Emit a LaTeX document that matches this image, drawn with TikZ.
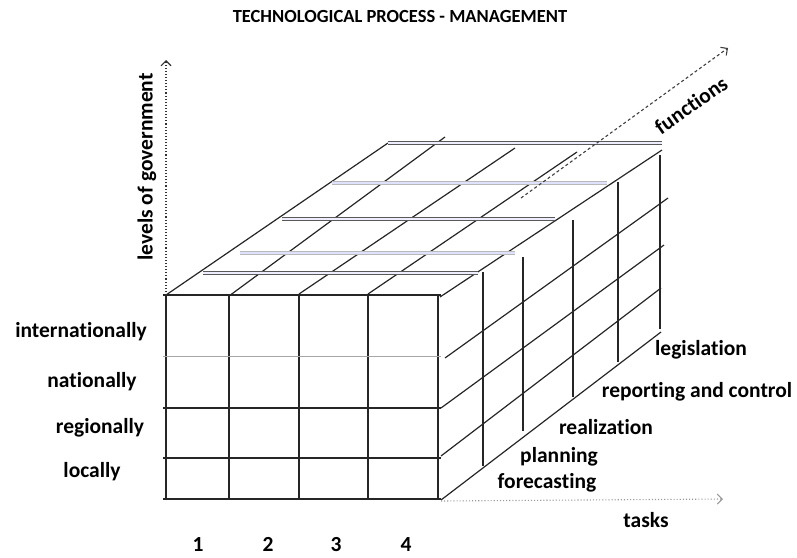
\documentclass[tikz,border=0pt]{standalone}
\usepackage{fontspec}
\setmainfont{Carlito}[Numbers=Lining, Ligatures=NoCommon]
\usetikzlibrary{arrows.meta}

\begin{document}
\begin{tikzpicture}[
  x=1pt, y=-1pt,
  grid/.style={line width=1.2pt, draw=black!85},
  bar/.style={line width=1pt, draw=gray!70!black, double=blue!7, double distance=1.8pt},
  lightbar/.style={bar, draw=gray!55, double=blue!12},
  lbl/.style={font=\fontsize{21.5}{23}\selectfont\bfseries, text=black, inner sep=0pt},
  num/.style={lbl, anchor=base},
  axis/.style={line width=1.1pt, -{Straight Barb[length=5pt]}}
  ]
  \useasboundingbox (0,0) rectangle (797,557);

  % front face
  \foreach \x in {166,229,299,368,438}
    \draw[grid] (\x,295) -- (\x,499);
  \foreach \y in {295,408,458,499}
    \draw[grid] (163,\y) -- (441,\y);
  \draw[line width=0.8pt, gray!70] (163,356) -- (441,356);

  % top face
  \draw[grid] (166,295) -- (388,143);
  \draw[grid] (229,296) -- (445,137);
  \draw[grid] (299,294) -- (515,148);
  \draw[grid] (368,294) -- (577,152);
  \draw[grid] (440,297) -- (662,150);
  \draw[bar] (388,143) -- (662,143);
  \draw[lightbar] (332,183) -- (607,183);
  \draw[bar] (282,219) -- (555,219);
  \draw[lightbar] (240,253) -- (515,253);
  \draw[bar] (203,273) -- (478,273);

  % right face
  \draw[grid] (445,358) -- (668,198);
  \draw[grid] (441,408) -- (664,245);
  \draw[grid] (441,456) -- (661,288);
  \draw[grid] (441,500) -- (661,332);
  \draw[grid] (483,272) -- (483,466);
  \draw[grid] (523,257) -- (523,431);
  \draw[grid] (573,220) -- (573,397);
  \draw[grid] (618,182) -- (618,362);
  \draw[grid] (660,155) -- (660,329);

  % axes
  \coordinate (origin) at (166,295);
  \coordinate (up) at (166,60);
  \coordinate (corner) at (441,501);
  \coordinate (right) at (723,499);
  \coordinate (fstart) at (521,198);
  \coordinate (fend) at (728,48);
  \draw[axis, black!80, dotted] (origin) -- (up);
  \draw[axis, gray!80, dotted] (corner) -- (right);
  \draw[axis, black!75, dash pattern=on 3pt off 2.5pt] (fstart) -- (fend);

  % labels
  \node[lbl, font=\fontsize{18.5}{20}\selectfont\bfseries] (title) at (400,16) {TECHNOLOGICAL PROCESS - MANAGEMENT};
  \node[lbl, rotate=90] (levels) at (147,167) {levels of government};
  \node[lbl, rotate=35] (functions) at (691,105) {functions};
  \node[lbl] (intl) at (81,332) {internationally};
  \node[lbl] (natl) at (92,382) {nationally};
  \node[lbl] (regl) at (100,428) {regionally};
  \node[lbl] (locl) at (92,472) {locally};
  \node[lbl] (legis) at (701,350) {legislation};
  \node[lbl] (report) at (697,392) {reporting and control};
  \node[lbl] (realiz) at (606,427) {realization};
  \node[lbl] (plan) at (559,457) {planning};
  \node[lbl] (fore) at (547,483) {forecasting};
  \node[lbl] (tasks) at (646,520) {tasks};
  \node[num] (n1) at (198,551) {1};
  \node[num] (n2) at (268,551) {2};
  \node[num] (n3) at (336,551) {3};
  \node[num] (n4) at (406,551) {4};
\end{tikzpicture}
\end{document}
